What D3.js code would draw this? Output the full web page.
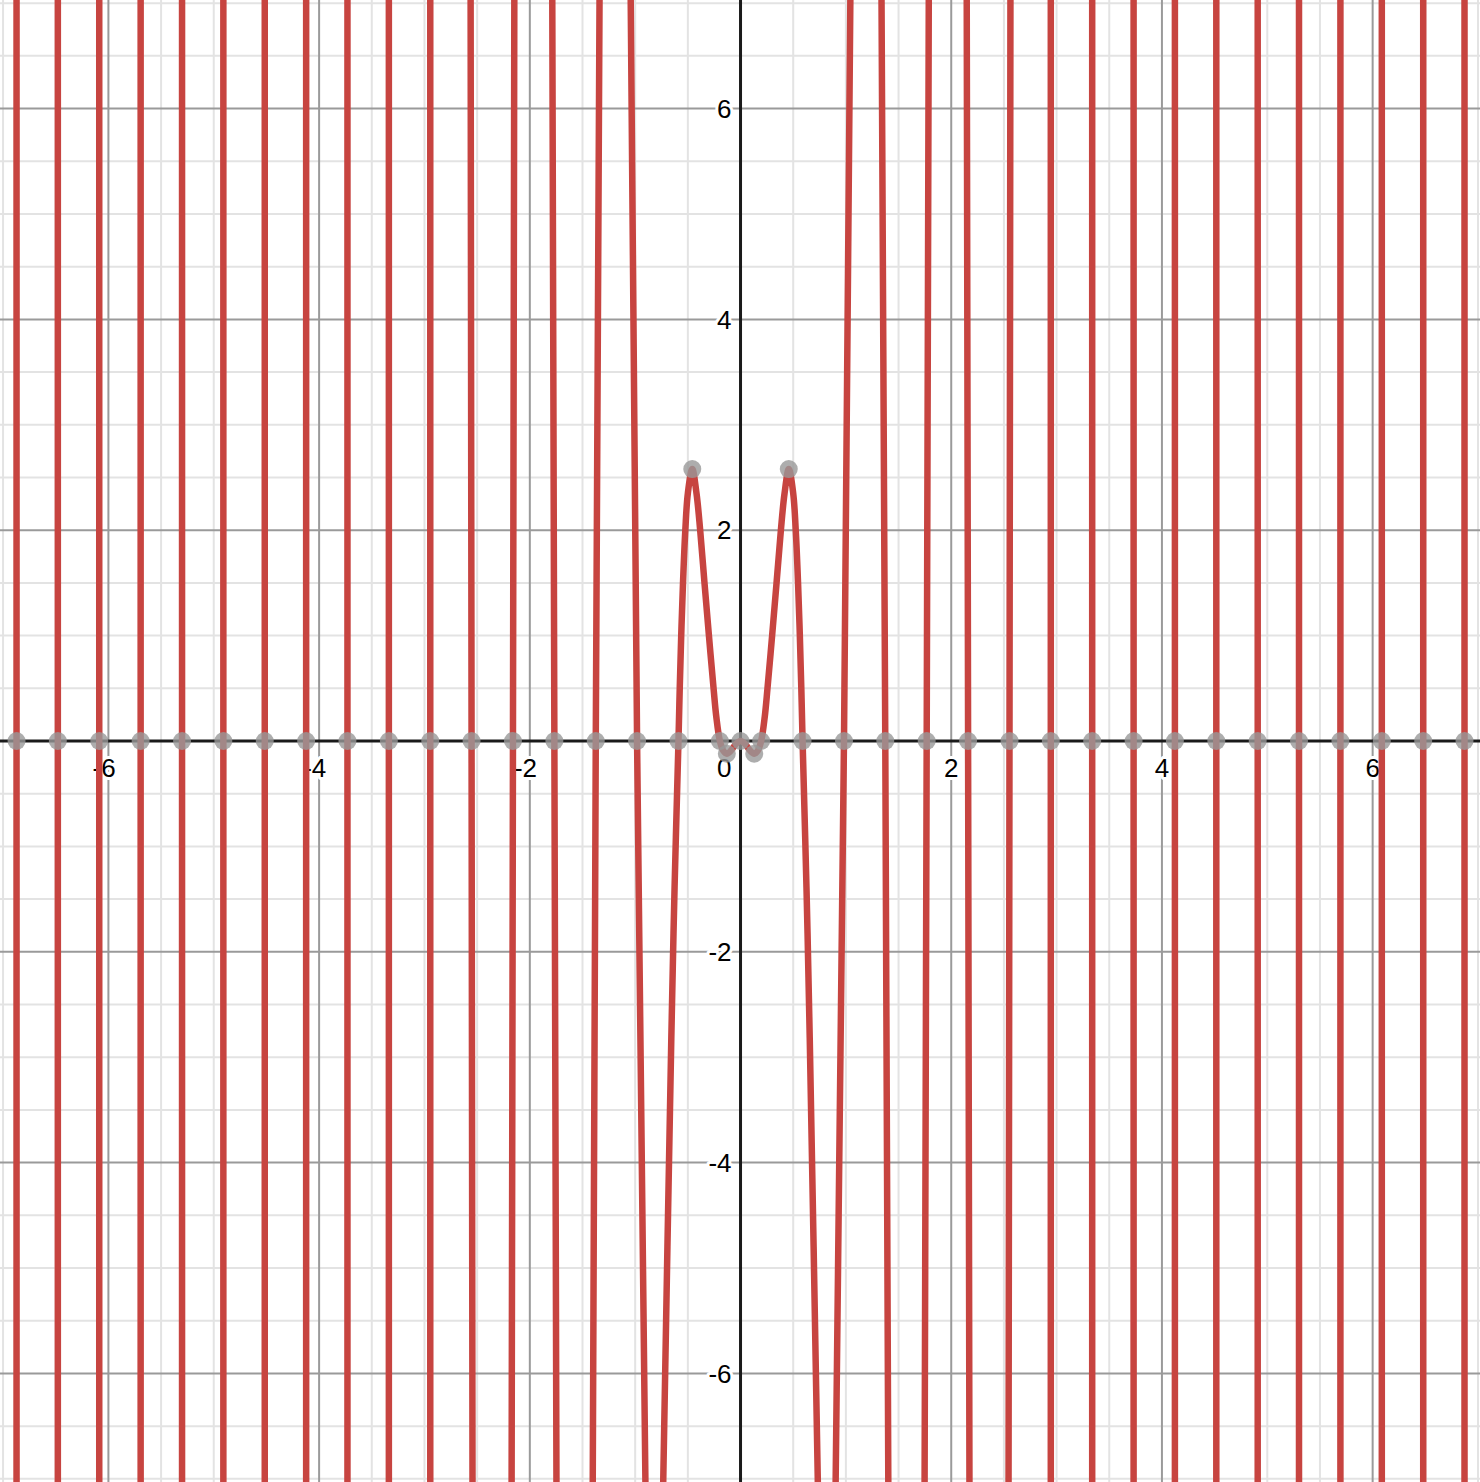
<!DOCTYPE html>
<html>
<head>
<meta charset="utf-8">
<script src="https://cdn.jsdelivr.net/npm/d3@7"></script>
<style>
html,body{margin:0;padding:0;background:#fff;overflow:hidden}
svg{display:block}
</style>
</head>
<body>
<svg id="chart"></svg>
<script>
// ---------- data ----------
const xTickLabels = [-6, -4, -2, 2, 4, 6];
const yTickLabels = [-6, -4, -2, 2, 4, 6];
const originLabel = "0";

// zero crossings (grey points on the x axis)
const rootX = [-6.872, -6.480, -6.087, -5.694, -5.301, -4.909, -4.516, -4.123, -3.731,
  -3.338, -2.945, -2.553, -2.160, -1.767, -1.374, -0.982, -0.589, -0.196, 0,
  0.196, 0.589, 0.982, 1.374, 1.767, 2.160, 2.553, 2.945, 3.338, 3.731, 4.123,
  4.516, 4.909, 5.301, 5.694, 6.087, 6.480, 6.872];

// local extrema (grey points off the axis)
const extremaX = [-0.458, -0.130, 0.130, 0.458];
const extremaY = [2.58, -0.12, -0.12, 2.58];

// branches that cross the whole view: x at the top edge, at the zero, at the bottom edge
const branchZeroX = [-6.872, -6.480, -6.087, -5.694, -5.301, -4.909, -4.516, -4.123, -3.731,
  -3.338, -2.945, -2.553, -2.160, -1.767, -1.374, -0.982,
  0.982, 1.374, 1.767, 2.160, 2.553, 2.945, 3.338, 3.731, 4.123, 4.516, 4.909,
  5.301, 5.694, 6.087, 6.480, 6.872];
const branchTopX = [-6.872, -6.480, -6.087, -5.694, -5.301, -4.909, -4.516, -4.123, -3.731,
  -3.338, -2.945, -2.562, -2.147, -1.787, -1.338, -1.043,
  1.043, 1.338, 1.787, 2.147, 2.562, 2.945, 3.338, 3.731, 4.123, 4.516, 4.909,
  5.301, 5.694, 6.087, 6.480, 6.872];
const branchBottomX = [-6.872, -6.480, -6.087, -5.694, -5.301, -4.909, -4.516, -4.123, -3.731,
  -3.338, -2.945, -2.544, -2.173, -1.747, -1.403, -0.902,
  0.902, 1.403, 1.747, 2.173, 2.544, 2.945, 3.338, 3.731, 4.123, 4.516, 4.909,
  5.301, 5.694, 6.087, 6.480, 6.872];

// the central piece of the curve (two humps around the origin)
const centerX = [-0.735, -0.657, -0.626, -0.589, -0.577, -0.563, -0.546, -0.524, -0.500,
  -0.458, -0.418, -0.383, -0.342, -0.300, -0.256, -0.230, -0.196, -0.165, -0.130,
  -0.090, -0.045, 0, 0.045, 0.090, 0.130, 0.165, 0.196, 0.230, 0.256, 0.300, 0.342,
  0.383, 0.418, 0.458, 0.500, 0.524, 0.546, 0.563, 0.577, 0.589, 0.626, 0.657, 0.735];
const centerY = [-7.1, -2.82, -1.39, 0, 0.5, 1.0, 1.5, 2.0, 2.35,
  2.58, 2.35, 2.0, 1.5, 1.0, 0.5, 0.23, 0, -0.09, -0.12,
  -0.09, -0.03, 0, -0.03, -0.09, -0.12, -0.09, 0, 0.23, 0.5, 1.0, 1.5,
  2.0, 2.35, 2.58, 2.35, 2.0, 1.5, 1.0, 0.5, 0, -1.39, -2.82, -7.1];

// ---------- layout ----------
const W = 1480, H = 1482;
const EDGE = 7.1;
const svg = d3.select("#chart").attr("width", W).attr("height", H)
  .style("background", "#fff");

const x = d3.scaleLinear().domain([-7.029, 7.019]).range([0, W]);
const y = d3.scaleLinear().domain([7.030, -7.030]).range([0, H]);

const gridVals = d3.range(-14, 15).map(i => i / 2);
const minorVals = gridVals.filter(v => v % 2 !== 0);
const majorVals = gridVals.filter(v => v % 2 === 0 && v !== 0);

const grid = svg.append("g");
// minor grid
grid.selectAll("line.vmin").data(minorVals).join("line")
  .attr("x1", d => x(d)).attr("x2", d => x(d)).attr("y1", 0).attr("y2", H)
  .attr("stroke", "#e3e3e3").attr("stroke-width", 2);
grid.selectAll("line.hmin").data(minorVals).join("line")
  .attr("y1", d => y(d)).attr("y2", d => y(d)).attr("x1", 0).attr("x2", W)
  .attr("stroke", "#e3e3e3").attr("stroke-width", 2);
// major grid
grid.selectAll("line.vmaj").data(majorVals).join("line")
  .attr("x1", d => x(d)).attr("x2", d => x(d)).attr("y1", 0).attr("y2", H)
  .attr("stroke", "#9a9a9a").attr("stroke-width", 2);
grid.selectAll("line.hmaj").data(majorVals).join("line")
  .attr("y1", d => y(d)).attr("y2", d => y(d)).attr("x1", 0).attr("x2", W)
  .attr("stroke", "#9a9a9a").attr("stroke-width", 2);

// labels with white halo
const labels = svg.append("g")
  .attr("font-family", "Arial, 'Liberation Sans', Helvetica, sans-serif")
  .attr("font-size", 26).attr("fill", "#000")
  .attr("stroke", "#fff").attr("stroke-width", 6)
  .attr("stroke-linejoin", "round").attr("paint-order", "stroke");

labels.selectAll("text.xl").data(xTickLabels).join("text")
  .attr("x", d => x(d) + 7.2).attr("y", y(0) + 36)
  .attr("text-anchor", "end").text(d => String(d));
labels.selectAll("text.yl").data(yTickLabels).join("text")
  .attr("x", x(0) - 9).attr("y", d => y(d) + 9.3)
  .attr("text-anchor", "end").text(d => String(d));
labels.append("text").attr("x", x(0) - 9).attr("y", y(0) + 36)
  .attr("text-anchor", "end").text(originLabel);

// axes
svg.append("line").attr("x1", 0).attr("x2", W).attr("y1", y(0)).attr("y2", y(0))
  .attr("stroke", "#1a1a1a").attr("stroke-width", 3);
svg.append("line").attr("x1", x(0)).attr("x2", x(0)).attr("y1", 0).attr("y2", H)
  .attr("stroke", "#1a1a1a").attr("stroke-width", 3);

// curve
const RED = "#c74440";
const curveG = svg.append("g").attr("fill", "none").attr("stroke", RED)
  .attr("stroke-width", 6.5).attr("stroke-linecap", "round").attr("stroke-linejoin", "round");

const straight = d3.line().x(d => x(d[0])).y(d => y(d[1]));
const branches = branchZeroX.map((z, i) => [[branchTopX[i], EDGE], [z, 0], [branchBottomX[i], -EDGE]]);
curveG.selectAll("path.branch").data(branches).join("path")
  .attr("d", d => straight(d));

const smooth = d3.line().x(d => x(d[0])).y(d => y(d[1])).curve(d3.curveCatmullRom.alpha(0.5));
const centerPts = centerX.map((v, i) => [v, centerY[i]]);
curveG.append("path").attr("d", smooth(centerPts));

// points of interest
const pts = rootX.map(v => [v, 0]).concat(extremaX.map((v, i) => [v, extremaY[i]]));
svg.append("g").selectAll("circle").data(pts).join("circle")
  .attr("cx", d => x(d[0])).attr("cy", d => y(d[1])).attr("r", 9)
  .attr("fill", "#999").attr("fill-opacity", 0.8);
</script>
</body>
</html>
